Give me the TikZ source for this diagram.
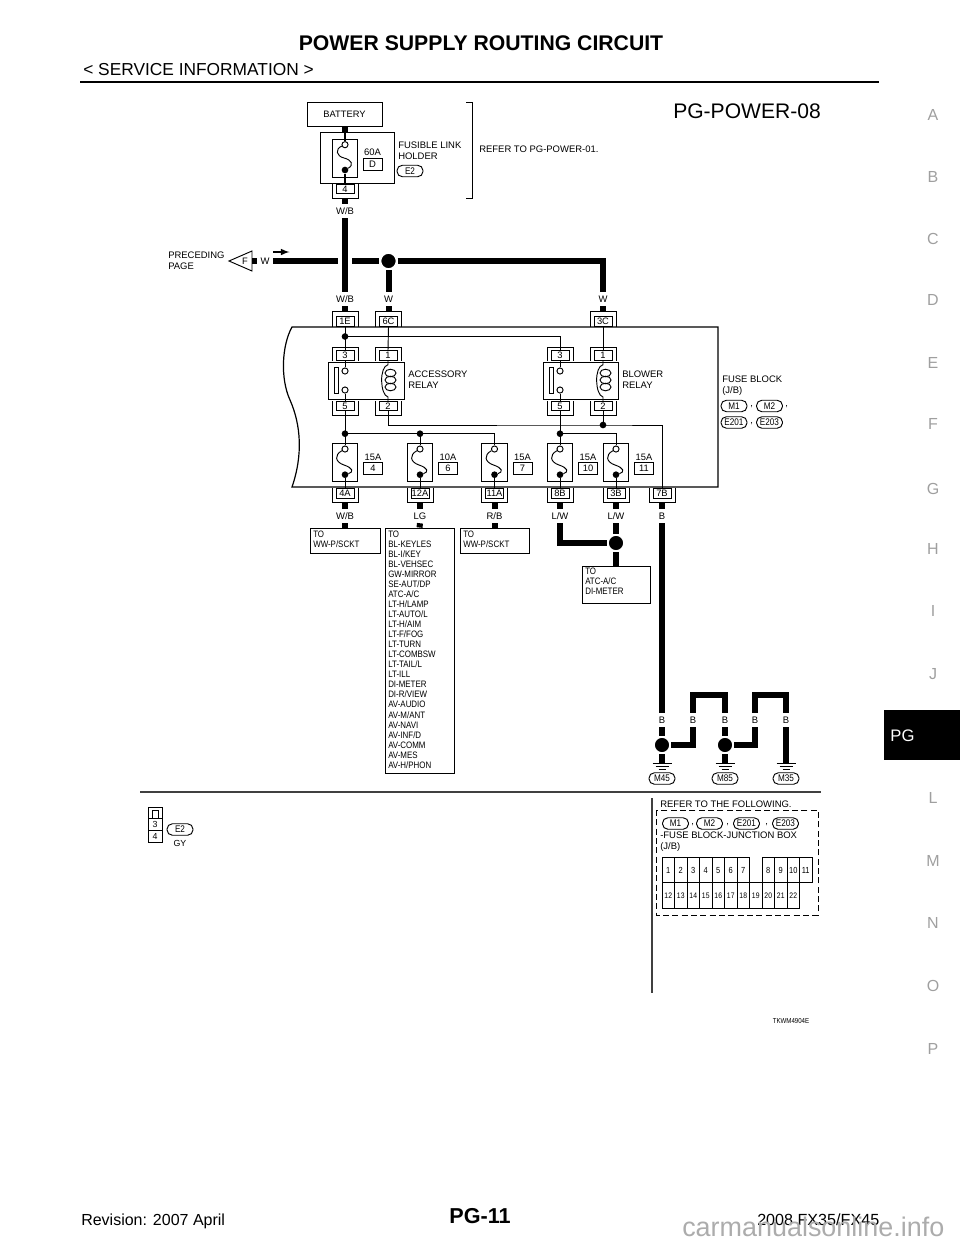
\documentclass[tikz,border=0pt]{standalone}
\usepackage{fontspec}
\setmainfont{Liberation Sans}
\newfontfamily\narrowfont[FakeStretch=.85]{Liberation Sans}
\tikzset{
  thinw/.style={line width=.7pt},
  wire/.style={line width=4.5pt},
  stubin/.style={line width=4.5pt,shorten >=3.6pt},
  stubout/.style={line width=4.5pt,shorten <=2.6pt},
  txt/.style={inner sep=0,anchor=west,font=\fontsize{7.1}{8.2}\selectfont},
  narrowtxt/.style={inner sep=0,anchor=north west,align=left,font=\narrowfont\fontsize{7}{7.53}\selectfont},
  wirelbl/.style={inner sep=0,minimum width=6pt,minimum height=10.5pt,font=\fontsize{7.1}{8}\selectfont},
  pinbox/.style={draw,thinw,fill=white,inner sep=0,minimum width=13.5pt,minimum height=7.1pt,text height=5pt,text depth=0pt,font=\fontsize{7}{8}\selectfont},
  boxed/.style={draw,thinw,inner sep=0},
  pill/.style={draw,thinw,rounded corners=4pt,inner sep=0,minimum width=19.5pt,minimum height=8.6pt,font=\narrowfont\fontsize{7.2}{8}\selectfont},
  jdot/.style={circle,fill=black,inner sep=0,minimum size=5pt},
  opendot/.style={circle,draw,thinw,fill=white,inner sep=0,minimum size=4.6pt},
  bigdot/.style={circle,fill=black,draw=white,inner sep=0,line width=1.4pt,minimum size=12.2pt},
  cell/.style={draw,thinw,inner sep=0,minimum width=9.4pt,minimum height=19pt,text height=4.8pt,text depth=0pt},
  gtab/.style={inner sep=0,text=gray!75,font=\fontsize{12}{14}\selectfont},
  rulegray/.style={draw=black!75,line width=1.1pt}
}
\begin{document}
\begin{tikzpicture}[x=.75pt,y=-.75pt]
  \useasboundingbox (0,0) rectangle (960,1242);

  % page header
  \node[inner sep=0,font=\bfseries\fontsize{15.9}{18}\selectfont] (title) at (481,43) {POWER SUPPLY ROUTING CIRCUIT};
  \node[txt,font=\fontsize{13}{15}\selectfont] (subtitle) at (83,70) {< SERVICE INFORMATION >};
  \draw[line width=1.5pt] (80,82) -- (879,82);
  \node[inner sep=0,font=\fontsize{15.8}{18}\selectfont] (figname) at (747,111) {PG-POWER-08};

  % side tabs
  \foreach \txt/\y in {A/115,B/177,C/239,D/300,E/363,F/424,G/489,H/549,I/611,J/674,L/798,M/861,N/923,O/986,P/1049} {
    \node[gtab] (tab\txt) at (933,\y) {\txt};
  }
  \fill[black] (884,710) rectangle (960,760);
  \node[inner sep=0,text=white,font=\fontsize{12.5}{14}\selectfont] (tabPG) at (902.5,736) {PG};

  % battery and fusible link
  \node[boxed,minimum width=56.25pt,minimum height=18pt,font=\fontsize{7}{8}\selectfont] (battery) at (344.5,114) {BATTERY};
  \node[boxed,minimum width=55.5pt,minimum height=38.25pt] (holder) at (357,157.5) {};
  \node[boxed,minimum width=18.75pt,minimum height=28.5pt] (linkbody) at (344.5,158) {};
  \node[opendot] (linktop) at (345,144.7) {};
  \node[jdot] (linkbot) at (345,170) {};
  \node[txt,anchor=center] (rate60) at (372.5,152) {60A};
  \node[boxed,minimum width=14.25pt,minimum height=9pt,font=\fontsize{7.1}{8}\selectfont] (boxD) at (372.5,164) {D};
  \node[txt] (fusible) at (398,145) {FUSIBLE LINK};
  \node[txt] (holdertxt) at (398,156) {HOLDER};
  \node[pill] (pE2a) at (410,171) {E2};
  \node[pinbox] (p4) at (345,189) {4};
  \draw[thinw] (332,184) -- (332,198) -- (358,198) -- (358,184);
  \coordinate (holdin) at (345,132);
  \draw[wire] (battery.south -| holdin) -- (holdin);
  \draw[line width=1.2pt] (holdin) -- (linktop);
  \draw[thinw] (linktop) .. controls (335,149) and (336,156) .. (344,158) .. controls (352,160) and (354,165) .. (linkbot);
  \draw[line width=1.2pt] (linkbot) -- (p4.north);

  % refer bracket
  \draw[thinw] (466,102) -- (472,102) -- (472,198) -- (466,198);
  \node[txt] (refer1) at (479,149) {REFER TO PG-POWER-01.};

  % preceding page
  \node[txt,align=left] (preceding) at (168,261) {PRECEDING\\PAGE};
  \draw[thinw] (229,261) -- (252,251) -- (252,271) -- cycle;
  \node[inner sep=0,font=\fontsize{7}{8}\selectfont] (tagF) at (245,261) {F};
  \coordinate (arrowa) at (273,252);
  \coordinate (arrowb) at (289.5,252);
  \draw[-latex,line width=1.2pt] (arrowa) -- (arrowb);

  % wire labels above the block
  \node[wirelbl,minimum width=11.25pt] (wW0) at (265,261) {W};
  \node[wirelbl] (wWBa) at (345,211) {W/B};
  \node[wirelbl] (wWBb) at (345,299) {W/B};
  \node[wirelbl] (wWa) at (388.5,299) {W};
  \node[wirelbl] (wWb) at (603,299) {W};
  \node[bigdot] (dotW) at (388.5,261) {};
  \coordinate (crossL) at (338,261);
  \coordinate (crossR) at (352,261);
  \coordinate (tagEnd) at (252,261);

  % fuse block outline
  \draw[line width=.9pt] (292,327) .. controls (282,345) and (280,378) .. (290,400) .. controls (301,425) and (303,455) .. (292,487) -- (718,487) -- (718,327) -- cycle;
  \node[txt,align=left] (fuseblock) at (722,386) {FUSE BLOCK\\(J/B)};
  \node[pill] (pM1a) at (734,406) {M1};
  \node[txt] (cma) at (750,407) {,};
  \node[pill] (pM2a) at (769.5,406) {M2};
  \node[txt] (cmb) at (785,407) {,};
  \node[pill] (pE201a) at (734,422.5) {E201};
  \node[txt] (cmc) at (750,424) {,};
  \node[pill] (pE203a) at (769.5,422.5) {E203};

  % pins on top of the block
  \foreach \x/\txt in {345/1E,388.5/6C,603/3C} {
    \node[pinbox] (p\txt) at (\x,321.5) {\txt};
    \draw[thinw] (\x-13,326.5) -- (\x-13,311) -- (\x+13,311) -- (\x+13,326.5);
  }

  % upper wires
  \draw[wire] (p4.south) ++(0,4.5) -- (wWBa.north);
  \draw[wire] (wWBa.south) -- (wWBb.north);
  \draw[stubin] (wWBb.south) -- (p1E.north);
  \draw[wire] (dotW.south) -- (wWa.north);
  \draw[stubin] (wWa.south) -- (p6C.north);
  \draw[stubin] (wWb.south) -- (p3C.north);
  \draw[wire] (tagEnd) -- (wW0.west);
  \draw[wire] (wW0.east) -- (crossL);
  \draw[wire] (crossR) -- (dotW.west);
  \draw[wire] (dotW.east) -| (wWb.north);

  % relays
  \foreach \r/\x/\bx in {A/345/366.5,B/560/581} {
    \node[boxed,minimum width=56.5pt,minimum height=27.75pt] (relay\r) at (\bx,380.5) {};
    \node[pinbox] (p\r3) at (\x,355.5) {3};
    \node[pinbox] (p\r1) at (\x+43,355.5) {1};
    \node[pinbox] (p\r5) at (\x,406) {5};
    \node[pinbox] (p\r2) at (\x+43,406) {2};
    \foreach \cx in {\x,\x+43} {
      \draw[thinw] (\cx-13,361) -- (\cx-13,347) -- (\cx+13,347) -- (\cx+13,361);
      \draw[thinw] (\cx-13,401) -- (\cx-13,415) -- (\cx+13,415) -- (\cx+13,401);
    }
    \node[opendot] (up\r) at (\x,371) {};
    \node[opendot] (lo\r) at (\x,390) {};
    \node[draw,thinw,inner sep=0,minimum width=2.4pt,minimum height=19pt] (bar\r) at (\x-8.5,380.5) {};
    \draw[thinw] (p\r3.south) -- (up\r);
    \draw[thinw] (lo\r) -- (p\r5.north);
    \draw[thinw] (p\r1.south) -- ++(0,4) .. controls +(-9,2) and (\x+35,395) .. (\x+43,397) -- (p\r2.north);
    \foreach \cy in {373,380,387} {
      \draw[thinw] (\x+45.5,\cy) ellipse (5.5 and 3.8);
    }
  }
  \node[txt,align=left] (accrelay) at (408,380) {ACCESSORY\\RELAY};
  \node[txt,align=left] (blowrelay) at (622,380) {BLOWER\\RELAY};

  % fuses
  \foreach \nm/\x/\amp/\txt in {F4/345/15A/4,F6/420/10A/6,F7/494.5/15A/7,F10/560/15A/10,F11/616/15A/11} {
    \node[boxed,minimum width=19pt,minimum height=29pt] (\nm) at (\x,462.5) {};
    \node[opendot] (\nm t) at (\x,449) {};
    \node[jdot] (\nm b) at (\x,474.7) {};
    \node[inner sep=0,font=\fontsize{7}{8}\selectfont] (\nm r) at (\x+28,457) {\amp};
    \node[boxed,minimum width=14.25pt,minimum height=9pt,font=\fontsize{7}{8}\selectfont] (\nm v) at (\x+28,468) {\txt};
    \draw[thinw] (\nm t) .. controls (\x-11,455) and (\x-10,462) .. (\x-1,465) .. controls (\x+8,468) and (\x+9,472) .. (\nm b);
  }

  % pins under the block
  \foreach \x/\txt/\col/\nm in {345/4A/W\slash B/a,420/12A/LG/b,494.5/11A/R\slash B/c,560/8B/L\slash W/d,616/3B/L\slash W/e,662/7B/B/f} {
    \node[pinbox] (p\txt) at (\x,493.5) {\txt};
    \draw[thinw] (\x-13,488) -- (\x-13,502) -- (\x+13,502) -- (\x+13,488);
    \node[wirelbl] (wl\nm) at (\x,516) {\col};
    \draw[stubout] (p\txt.south) -- (wl\nm.north);
  }

  % wires inside the block
  \node[jdot] (jtop) at (345,336.5) {};
  \node[jdot] (jlowa) at (345,433.7) {};
  \node[jdot] (jlowb) at (420,433.7) {};
  \node[jdot] (jlowc) at (560,433.7) {};
  \node[jdot] (jcoil) at (603,425) {};
  \draw[thinw] (p1E.south) -- (pA3.north);
  \draw[thinw] (jtop.center) -| (pB3.north);
  \draw[thinw] (p6C.south) -- (pA1.north);
  \draw[thinw] (p3C.south) -- (pB1.north);
  \draw[thinw] (pA5.south) -- (F4t);
  \draw[thinw] (jlowa.center) -- (jlowb.center) -| (F7t.north);
  \draw[thinw] (jlowb.center) -- (F6t);
  \draw[thinw] (pB5.south) -- (F10t);
  \draw[thinw] (jlowc.center) -| (F11t.north);
  \draw[thinw] (pA2.south) |- (jcoil.center) -| (p7B.north);
  \draw[thinw] (pB2.south) -- (jcoil.center);
  \foreach \nm/\p in {F4/4A,F6/12A,F7/11A,F10/8B,F11/3B} {
    \draw[thinw] (\nm b) -- (p\p.north);
  }

  % boxes under the fuses
  \node[boxed,minimum width=52.5pt,minimum height=18.75pt] (toa) at (345,540.5) {};
  \node[narrowtxt] (toatxt) at (313,530.5) {TO\\WW-P/SCKT};
  \node[boxed,minimum width=51.75pt,minimum height=183.75pt] (tob) at (419.5,650.5) {};
  \node[narrowtxt] (tobtxt) at (388,530.5) {TO\\BL-KEYLES\\BL-I/KEY\\BL-VEHSEC\\GW-MIRROR\\SE-AUT/DP\\ATC-A/C\\LT-H/LAMP\\LT-AUTO/L\\LT-H/AIM\\LT-F/FOG\\LT-TURN\\LT-COMBSW\\LT-TAIL/L\\LT-ILL\\DI-METER\\DI-R/VIEW\\AV-AUDIO\\AV-M/ANT\\AV-NAVI\\AV-INF/D\\AV-COMM\\AV-MES\\AV-H/PHON};
  \node[boxed,minimum width=51.75pt,minimum height=18.75pt] (toc) at (494.5,540.5) {};
  \node[narrowtxt] (toctxt) at (463,530.5) {TO\\WW-P/SCKT};
  \node[boxed,minimum width=51pt,minimum height=27.75pt] (tod) at (616,584.5) {};
  \node[narrowtxt] (todtxt) at (585,567.5) {TO\\ATC-A/C\\DI-METER};
  \node[bigdot] (dotatc) at (616,543) {};
  \draw[wire] (wla.south) -- (toa.north);
  \draw[wire] (wlb.south) -- (tob.north);
  \draw[wire] (wlc.south) -- (toc.north);
  \draw[wire] (wld.south) |- (dotatc.west);
  \draw[wire] (wle.south) -- (dotatc.north);
  \draw[wire] (dotatc.south) -- (tod.north);

  % grounds
  \node[wirelbl] (gba) at (662,720) {B};
  \node[wirelbl] (gbb) at (693,720) {B};
  \node[wirelbl] (gbc) at (725,720) {B};
  \node[wirelbl] (gbd) at (755,720) {B};
  \node[wirelbl] (gbe) at (786,720) {B};
  \node[bigdot] (gda) at (662,745) {};
  \node[bigdot] (gdb) at (725,745) {};
  \foreach \nm/\x/\txt in {a/662/M45,b/725/M85,c/786/M35} {
    \coordinate (gnd\nm) at (\x,763);
    \draw[thinw] (\x-9.5,763) -- (\x+9.5,763);
    \draw[thinw] (\x-6.5,766) -- (\x+6.5,766);
    \draw[thinw] (\x-3.5,769) -- (\x+3.5,769);
    \node[pill] (p\txt) at (\x,778.5) {\txt};
  }
  \draw[wire] (wlf.south) -- (gba.north);
  \draw[wire] (gba.south) -- (gda.north);
  \draw[wire] (gda.south) -- (gnda);
  \draw[wire] (gdb.south) -- (gndb);
  \draw[wire] (gda.east) -| (gbb.south);
  \draw[wire] (gbb.north) |- (725,695) -- (gbc.north);
  \draw[wire] (gbc.south) -- (gdb.north);
  \draw[wire] (gdb.east) -| (gbd.south);
  \draw[wire] (gbd.north) |- (786,695) -- (gbe.north);
  \draw[wire] (gbe.south) -- (gndc);

  % connector legend
  \draw[rulegray] (140,792) -- (821,792);
  \draw[rulegray] (652,798) -- (652,993);
  \node[draw,thinw,inner sep=0,minimum width=10.5pt,minimum height=26.25pt] (legend) at (155,824.5) {};
  \draw[thinw] (148,818) -- (162,818);
  \draw[thinw] (148,830) -- (162,830);
  \draw[thinw] (152,818) -- (152,810.5) -- (158,810.5) -- (158,818);
  \node[inner sep=0,font=\fontsize{6.6}{8}\selectfont] (leg3) at (155,824) {3};
  \node[inner sep=0,font=\fontsize{6.6}{8}\selectfont] (leg4) at (155,836) {4};
  \node[pill] (pE2b) at (180,829.5) {E2};
  \node[inner sep=0,font=\fontsize{6.6}{8}\selectfont] (gy) at (180,843) {GY};

  % fuse block layout
  \node[txt] (refer2) at (660,804) {REFER TO THE FOLLOWING.};
  \draw[thinw,dash pattern=on 4.5pt off 2.5pt] (656,810) rectangle (818,915);
  \node[pill] (pM1b) at (675.5,823.5) {M1};
  \node[txt] (cmd) at (691,825) {,};
  \node[pill] (pM2b) at (709.5,823.5) {M2};
  \node[txt] (cme) at (726,825) {,};
  \node[pill] (pE201b) at (746.5,823.5) {E201};
  \node[txt] (cmf) at (765,825) {,};
  \node[pill] (pE203b) at (785.5,823.5) {E203};
  \node[txt,align=left] (junction) at (660,842) {-FUSE BLOCK-JUNCTION BOX\\(J/B)};
  \foreach \i/\txt in {0/1,1/2,2/3,3/4,4/5,5/6,6/7,8/8,9/9,10/10,11/11} {
    \node[cell,font=\narrowfont\fontsize{6.6}{8}\selectfont] (cell\txt) at (668.25+12.5*\i,870) {\txt};
  }
  \foreach \i in {0,...,10} {
    \pgfmathtruncatemacro{\n}{\i+12}
    \node[cell,font=\narrowfont\fontsize{6}{8}\selectfont] (cell\n) at (668.25+12.5*\i,895.5) {\n};
  }
  \node[inner sep=0,font=\narrowfont\fontsize{5.4}{7}\selectfont] (figcode) at (791,1021) {TKWM4904E};

  % page footer
  \node[txt,font=\fontsize{12}{14}\selectfont] (revision) at (81,1221) {Revision: 2007 April};
  \node[inner sep=0,font=\bfseries\fontsize{16.2}{18}\selectfont] (pageno) at (480,1216) {PG-11};
  \node[txt,font=\fontsize{12.1}{14}\selectfont] (model) at (757,1220) {2008 FX35/FX45};
  \node[txt,text=gray!65,font=\fontsize{20.2}{24}\selectfont] (mark) at (682,1227) {carmanualsonline.info};
\end{tikzpicture}
\end{document}
